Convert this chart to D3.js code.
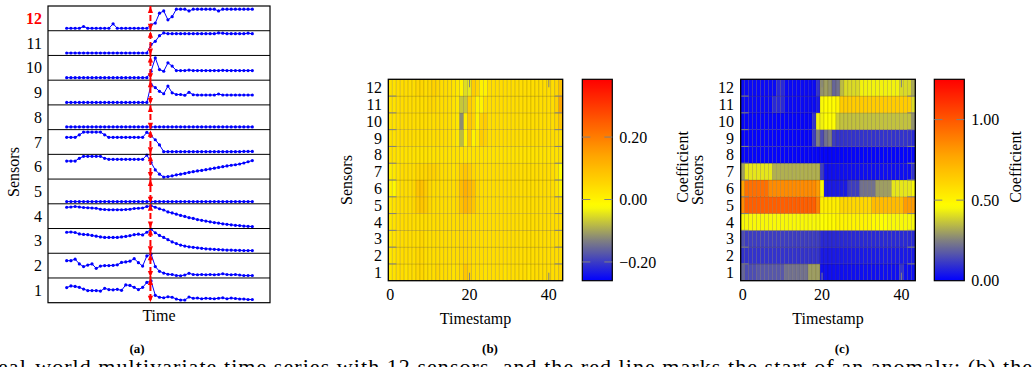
<!DOCTYPE html>
<html><head><meta charset="utf-8">
<script src="https://cdn.jsdelivr.net/npm/d3@7"></script>
<style>body{margin:0;background:#fff}svg{display:block}</style>
</head><body><svg id="chart" width="1032" height="367" font-family="Liberation Serif, DejaVu Serif, serif"></svg>
<script>
// ---------- DATA ----------
const sensorLabels = ["1","2","3","4","5","6","7","8","9","10","11","12"];
const highlightSensor = "12";
const changePoint = 19.85;           // start of anomaly in panel (a) time index
const timeCount = 45;                // points per series in panel (a)
// panel (a): each sensor's reading, scaled to its own strip (0 = bottom, 1 = top)
const sensor1  = [0.61,0.68,0.66,0.62,0.55,0.49,0.49,0.49,0.47,0.58,0.53,0.52,0.54,0.5,0.72,0.7,0.62,0.53,0.62,0.82,0.88,0.3,0.22,0.2,0.24,0.22,0.15,0.11,0.11,0.23,0.18,0.19,0.16,0.18,0.17,0.16,0.18,0.2,0.16,0.19,0.17,0.15,0.15,0.13,0.13];
const sensor2  = [0.7,0.7,0.76,0.57,0.46,0.52,0.57,0.39,0.48,0.5,0.5,0.51,0.53,0.63,0.65,0.68,0.78,0.62,0.48,0.89,0.97,0.46,0.27,0.2,0.15,0.14,0.1,0.09,0.12,0.19,0.14,0.13,0.14,0.13,0.14,0.13,0.14,0.17,0.14,0.13,0.14,0.12,0.1,0.1,0.1];
const sensor3  = [0.85,0.86,0.84,0.78,0.76,0.75,0.72,0.69,0.66,0.64,0.64,0.64,0.64,0.66,0.68,0.71,0.75,0.77,0.74,0.85,0.97,0.83,0.72,0.64,0.55,0.46,0.39,0.33,0.29,0.26,0.24,0.22,0.2,0.18,0.17,0.16,0.15,0.14,0.13,0.13,0.12,0.12,0.11,0.11,0.11];
const sensor4  = [0.86,0.87,0.89,0.87,0.85,0.84,0.83,0.82,0.78,0.77,0.76,0.76,0.76,0.76,0.77,0.78,0.81,0.82,0.83,0.89,0.92,0.86,0.8,0.75,0.67,0.63,0.58,0.53,0.49,0.44,0.41,0.36,0.33,0.3,0.27,0.24,0.22,0.19,0.17,0.15,0.13,0.12,0.1,0.09,0.08];
const sensor5  = [0.09,0.09,0.09,0.09,0.09,0.09,0.09,0.09,0.09,0.09,0.09,0.09,0.09,0.09,0.09,0.09,0.09,0.09,0.09,0.09,0.09,0.09,0.09,0.09,0.09,0.09,0.09,0.09,0.09,0.09,0.09,0.09,0.09,0.09,0.09,0.09,0.09,0.09,0.09,0.09,0.09,0.09,0.09,0.09,0.09];
const sensor6  = [0.73,0.73,0.73,0.84,0.92,0.92,0.92,0.92,0.92,0.84,0.8,0.8,0.8,0.8,0.8,0.8,0.8,0.8,0.8,0.97,0.67,0.37,0.2,0.08,0.1,0.13,0.17,0.2,0.23,0.27,0.3,0.33,0.35,0.38,0.41,0.44,0.47,0.5,0.53,0.56,0.58,0.61,0.65,0.7,0.75];
const sensor7  = [0.69,0.69,0.69,0.79,0.9,0.9,0.9,0.9,0.9,0.79,0.69,0.69,0.69,0.69,0.69,0.69,0.69,0.69,0.69,0.89,0.75,0.59,0.38,0.11,0.11,0.11,0.11,0.11,0.11,0.11,0.11,0.11,0.11,0.11,0.11,0.11,0.11,0.11,0.11,0.11,0.11,0.11,0.12,0.12,0.12];
const sensor8  = [0.11,0.11,0.11,0.11,0.11,0.11,0.11,0.11,0.11,0.11,0.11,0.11,0.11,0.11,0.11,0.11,0.11,0.11,0.11,0.11,0.11,0.11,0.11,0.11,0.11,0.11,0.11,0.11,0.11,0.11,0.11,0.11,0.11,0.11,0.11,0.11,0.11,0.11,0.11,0.11,0.11,0.11,0.11,0.11,0.11];
const sensor9  = [0.1,0.1,0.1,0.1,0.1,0.1,0.1,0.1,0.1,0.1,0.1,0.1,0.1,0.1,0.1,0.1,0.1,0.1,0.1,0.1,0.83,0.7,0.55,0.45,0.76,0.49,0.42,0.42,0.39,0.51,0.41,0.4,0.4,0.4,0.4,0.4,0.44,0.4,0.4,0.4,0.4,0.4,0.4,0.4,0.4];
const sensor10 = [0.1,0.1,0.1,0.1,0.1,0.1,0.1,0.1,0.1,0.1,0.1,0.1,0.1,0.1,0.1,0.1,0.1,0.1,0.1,0.1,0.36,0.9,0.43,0.36,0.7,0.57,0.39,0.39,0.39,0.41,0.39,0.39,0.39,0.39,0.39,0.39,0.39,0.4,0.39,0.39,0.39,0.39,0.39,0.39,0.39];
const sensor11 = [0.1,0.1,0.1,0.1,0.1,0.1,0.1,0.1,0.1,0.1,0.1,0.1,0.1,0.1,0.1,0.1,0.1,0.1,0.1,0.1,0.44,0.57,0.8,0.91,0.88,0.88,0.88,0.88,0.88,0.88,0.88,0.88,0.88,0.88,0.88,0.88,0.91,0.9,0.88,0.88,0.88,0.88,0.88,0.9,0.88];
const sensor12 = [0.1,0.1,0.1,0.1,0.17,0.1,0.1,0.1,0.1,0.1,0.1,0.28,0.1,0.1,0.1,0.1,0.1,0.1,0.1,0.1,0.24,0.31,0.71,0.8,0.44,0.57,0.87,0.87,0.87,0.8,0.87,0.87,0.87,0.87,0.87,0.87,0.8,0.87,0.87,0.87,0.87,0.87,0.87,0.87,0.87];

// panel (b): coefficient per sensor (row) and timestamp 0..43
const timestamps = d3.range(44);
const xTicks = [0, 20, 40];
const bTicks = [-0.2, 0, 0.2];
const bRange = [-0.26, 0.385];
const b1  = [0.02,0.03,0.04,0.04,0.03,0.04,0.04,0.05,0.05,0.04,0.04,0.04,0.05,0.04,0.04,0.04,0.03,0.04,0.05,0.08,0.06,0.04,0.04,0.04,0.03,0.04,0.04,0.04,0.04,0.03,0.04,0.04,0.04,0.04,0.04,0.03,0.04,0.04,0.04,0.04,0.04,0.04,0.04,0.05];
const b2  = [0.02,0.03,0.04,0.04,0.04,0.04,0.04,0.05,0.05,0.04,0.04,0.04,0.04,0.04,0.04,0.04,0.04,0.04,0.05,0.05,0.05,0.04,0.04,0.04,0.04,0.04,0.04,0.04,0.04,0.04,0.04,0.04,0.04,0.04,0.04,0.04,0.04,0.04,0.04,0.04,0.04,0.04,0.04,0.04];
const b3  = [0.02,0.03,0.04,0.04,0.04,0.04,0.04,0.04,0.05,0.04,0.04,0.04,0.04,0.04,0.04,0.04,0.04,0.04,0.05,0.05,0.05,0.04,0.04,0.04,0.04,0.04,0.04,0.04,0.04,0.04,0.04,0.04,0.04,0.04,0.04,0.04,0.04,0.04,0.04,0.04,0.04,0.04,0.04,0.04];
const b4  = [0.02,0.03,0.04,0.04,0.04,0.04,0.04,0.04,0.04,0.04,0.04,0.04,0.04,0.04,0.04,0.04,0.04,0.04,0.05,0.05,0.05,0.04,0.04,0.04,0.04,0.04,0.04,0.04,0.04,0.04,0.04,0.04,0.04,0.04,0.04,0.04,0.04,0.04,0.04,0.04,0.04,0.04,0.04,0.04];
const b5  = [0.02,0.03,0.04,0.04,0.04,0.04,0.05,0.07,0.08,0.07,0.05,0.04,0.04,0.04,0.04,0.04,0.04,0.05,0.09,0.11,0.1,0.08,0.05,0.04,0.04,0.04,0.04,0.04,0.04,0.04,0.04,0.04,0.04,0.04,0.04,0.04,0.04,0.04,0.04,0.04,0.04,0.04,0.04,0.04];
const b6  = [0.0,-0.01,0.03,0.04,0.04,0.04,0.05,0.08,0.09,0.07,0.05,0.04,0.04,0.04,0.04,0.04,0.04,0.05,0.1,0.12,0.11,0.09,0.05,0.04,0.04,0.04,0.04,0.04,0.04,0.04,0.04,0.04,0.04,0.04,0.04,0.04,0.04,0.04,0.04,0.04,0.04,0.04,0.03,0.0];
const b7  = [0.01,0.02,0.03,0.04,0.04,0.04,0.04,0.05,0.05,0.05,0.06,0.06,0.05,0.04,0.04,0.04,0.03,0.04,0.07,0.08,0.07,0.05,0.04,0.04,0.04,0.04,0.04,0.04,0.04,0.04,0.04,0.04,0.04,0.04,0.04,0.04,0.04,0.04,0.04,0.04,0.04,0.04,0.03,-0.02];
const b8  = [0.03,0.03,0.03,0.03,0.03,0.03,0.03,0.03,0.03,0.03,0.03,0.03,0.03,0.03,0.03,0.03,0.03,0.03,0.03,0.03,0.03,0.03,0.03,0.03,0.03,0.03,0.03,0.03,0.03,0.03,0.03,0.03,0.03,0.03,0.03,0.03,0.03,0.03,0.03,0.03,0.03,0.03,0.03,0.03];
const b9  = [0.03,0.03,0.04,0.04,0.04,0.04,0.04,0.04,0.04,0.04,0.04,0.04,0.04,0.04,0.04,0.04,0.03,0.02,-0.08,0.0,0.08,0.0,0.02,0.07,0.06,0.04,0.04,0.04,0.04,0.04,0.04,0.04,0.04,0.04,0.04,0.04,0.04,0.04,0.04,0.04,0.04,0.04,0.04,0.04];
const b10 = [0.03,0.03,0.04,0.04,0.04,0.04,0.04,0.04,0.04,0.04,0.04,0.04,0.04,0.04,0.04,0.04,0.03,0.02,-0.12,0.01,0.08,0.06,0.0,0.06,0.07,0.04,0.04,0.04,0.04,0.04,0.04,0.04,0.04,0.04,0.04,0.04,0.04,0.04,0.04,0.04,0.04,0.04,0.05,0.08];
const b11 = [0.03,0.03,0.04,0.04,0.04,0.04,0.04,0.04,0.04,0.04,0.05,0.05,0.04,0.04,0.04,0.04,0.03,0.02,-0.07,-0.07,0.07,0.05,0.0,0.0,0.04,0.04,0.04,0.04,0.04,0.04,0.04,0.04,0.04,0.04,0.04,0.04,0.04,0.04,0.04,0.04,0.04,0.04,0.06,0.14];
const b12 = [0.03,0.03,0.04,0.04,0.04,0.04,0.04,0.05,0.05,0.04,0.05,0.06,0.05,0.04,0.04,0.04,0.03,0.02,0.0,-0.05,-0.04,0.07,0.05,0.0,0.0,0.04,0.04,0.04,0.04,0.04,0.04,0.04,0.04,0.04,0.04,0.04,0.04,0.04,0.04,0.04,0.04,0.04,0.05,0.09];

// panel (c)
const cTicks = [0, 0.5, 1.0];
const cRange = [0, 1.25];
const c1  = [0.2,0.15,0.15,0.15,0.17,0.17,0.17,0.17,0.17,0.17,0.17,0.22,0.22,0.22,0.22,0.22,0.22,0.3,0.3,0.3,0.03,0.03,0.03,0.03,0.03,0.03,0.03,0.03,0.03,0.03,0.03,0.03,0.03,0.03,0.03,0.03,0.03,0.03,0.03,0.03,0.1,0.03,0.03,0.03];
const c2  = [0.1,0.1,0.1,0.1,0.1,0.1,0.1,0.1,0.1,0.1,0.1,0.1,0.1,0.1,0.1,0.1,0.1,0.1,0.1,0.1,0.05,0.05,0.05,0.05,0.05,0.05,0.05,0.05,0.05,0.05,0.05,0.05,0.05,0.05,0.05,0.05,0.05,0.05,0.05,0.05,0.05,0.05,0.05,0.05];
const c3  = [0.15,0.12,0.12,0.12,0.12,0.12,0.12,0.12,0.12,0.12,0.12,0.12,0.12,0.12,0.12,0.12,0.12,0.12,0.12,0.12,0.08,0.08,0.08,0.08,0.08,0.08,0.08,0.08,0.08,0.08,0.08,0.08,0.08,0.08,0.08,0.08,0.08,0.08,0.08,0.08,0.08,0.08,0.08,0.08];
const c4  = [0.45,0.45,0.45,0.45,0.45,0.45,0.45,0.45,0.45,0.45,0.45,0.45,0.45,0.45,0.45,0.45,0.45,0.45,0.45,0.45,0.46,0.46,0.48,0.48,0.5,0.5,0.5,0.5,0.5,0.5,0.5,0.5,0.5,0.48,0.48,0.46,0.46,0.45,0.45,0.45,0.45,0.45,0.45,0.45];
const c5  = [0.85,0.98,0.98,0.98,0.98,0.98,0.98,0.98,0.98,0.98,0.98,0.98,0.98,0.98,0.98,0.98,0.98,0.98,0.98,0.88,0.52,0.52,0.52,0.52,0.52,0.6,0.6,0.6,0.6,0.6,0.6,0.6,0.6,0.7,0.7,0.7,0.7,0.7,0.7,0.7,0.7,0.8,0.8,0.8];
const c6  = [0.78,0.93,0.93,0.93,0.93,0.93,0.93,0.85,0.85,0.85,0.85,0.85,0.85,0.85,0.85,0.85,0.85,0.85,0.85,0.8,0.45,0.05,0.05,0.05,0.05,0.05,0.05,0.12,0.12,0.12,0.22,0.22,0.22,0.22,0.3,0.3,0.3,0.3,0.42,0.42,0.42,0.42,0.42,0.45];
const c7  = [0.3,0.42,0.42,0.42,0.42,0.42,0.42,0.42,0.33,0.33,0.33,0.33,0.33,0.33,0.33,0.33,0.33,0.33,0.33,0.33,0.12,0.03,0.03,0.03,0.03,0.03,0.03,0.03,0.03,0.03,0.03,0.03,0.03,0.03,0.03,0.03,0.03,0.03,0.03,0.03,0.03,0.03,0.03,0.1];
const c8  = [0.01,0.01,0.01,0.01,0.01,0.01,0.01,0.01,0.01,0.01,0.01,0.01,0.01,0.01,0.01,0.01,0.01,0.01,0.01,0.01,0.01,0.01,0.01,0.01,0.01,0.01,0.01,0.01,0.01,0.01,0.01,0.01,0.01,0.01,0.01,0.01,0.01,0.01,0.01,0.01,0.01,0.01,0.01,0.01];
const c9  = [0.01,0.01,0.01,0.01,0.01,0.01,0.01,0.01,0.01,0.01,0.01,0.01,0.01,0.01,0.01,0.01,0.01,0.01,0.12,0.25,0.15,0.22,0.25,0.12,0.1,0.1,0.1,0.1,0.1,0.1,0.1,0.1,0.1,0.1,0.1,0.1,0.1,0.1,0.1,0.1,0.1,0.1,0.1,0.08];
const c10 = [0.01,0.01,0.01,0.01,0.01,0.01,0.01,0.01,0.01,0.01,0.01,0.01,0.01,0.01,0.01,0.01,0.01,0.01,0.1,0.44,0.44,0.46,0.46,0.46,0.38,0.36,0.36,0.36,0.36,0.36,0.36,0.36,0.36,0.36,0.36,0.36,0.36,0.36,0.36,0.36,0.36,0.36,0.36,0.28];
const c11 = [0.02,0.02,0.02,0.02,0.02,0.02,0.02,0.02,0.08,0.08,0.08,0.02,0.02,0.02,0.02,0.02,0.02,0.02,0.02,0.05,0.45,0.47,0.47,0.47,0.5,0.64,0.64,0.64,0.64,0.64,0.64,0.64,0.64,0.64,0.64,0.64,0.64,0.64,0.64,0.64,0.64,0.64,0.64,0.4];
const c12 = [0.02,0.02,0.02,0.02,0.02,0.02,0.02,0.02,0.02,0.08,0.08,0.02,0.02,0.02,0.02,0.02,0.02,0.02,0.02,0.1,0.28,0.3,0.28,0.2,0.22,0.35,0.4,0.4,0.4,0.4,0.44,0.44,0.44,0.44,0.44,0.44,0.44,0.44,0.44,0.44,0.4,0.4,0.4,0.32];

const captionText = "eal-world multivariate time series with 12 sensors, and the red line marks the start of an anomaly; (b) the";

// ---------- DRAW ----------
const SERIF = "'Liberation Serif', 'DejaVu Serif', serif";
const svg = d3.select("#chart");
svg.append("rect").attr("width",1032).attr("height",367).attr("fill","#fff");
const FS = 16;
function txt(g){ return g.append("text").style("font-family", SERIF).attr("fill","#000"); }

// Panel (a)
const sensors = [sensor1,sensor2,sensor3,sensor4,sensor5,sensor6,sensor7,sensor8,sensor9,sensor10,sensor11,sensor12];
const aL = 48, aR = 270, aT = 6, aB = 302.7;
const band = d3.scaleBand().domain(sensorLabels.slice().reverse()).range([aT, aB]).paddingInner(0);
const xa = d3.scaleLinear().domain([0, timeCount-1]).range([66.7, 252.3]);
const ga = svg.append("g");
sensors.forEach((vals, i) => {
  const lab = sensorLabels[i];
  const y0 = band(lab), h = band.bandwidth();
  const ya = d3.scaleLinear().domain([0,1]).range([y0+h, y0]);
  const line = d3.line().x((d,j)=>xa(j)).y(d=>ya(d));
  ga.append("path").attr("d", line(vals)).attr("fill","none").attr("stroke","#0000ff").attr("stroke-width",1);
  ga.selectAll(null).data(vals).enter().append("circle")
    .attr("cx",(d,j)=>xa(j)).attr("cy",d=>ya(d)).attr("r",1.6).attr("fill","#0000ff");
  txt(ga).attr("x",42).attr("y",y0+h/2).attr("dy","0.35em").attr("text-anchor","end")
    .attr("font-size",FS).attr("font-weight", lab===highlightSensor?"bold":"normal")
    .attr("fill", lab===highlightSensor?"#ff0000":"#000").text(lab);
});
sensorLabels.slice(0,11).forEach(lab => {
  const y = band(lab);
  ga.append("line").attr("x1",aL).attr("x2",aR).attr("y1",y).attr("y2",y).attr("stroke","#000").attr("stroke-width",1);
});
ga.append("rect").attr("x",aL).attr("y",aT).attr("width",aR-aL).attr("height",aB-aT).attr("fill","none").attr("stroke","#000").attr("stroke-width",1.2);
const xc = xa(changePoint);
ga.append("line").attr("x1",xc).attr("x2",xc).attr("y1",aT).attr("y2",aB).attr("stroke","#ff0000").attr("stroke-width",2).attr("stroke-dasharray","6,3");
sensorLabels.forEach(lab => {
  const y0 = band(lab), y1 = y0 + band.bandwidth();
  ga.append("path").attr("d",`M${xc},${y0+0.5}L${xc-2.6},${y0+7}L${xc+2.6},${y0+7}Z`).attr("fill","#ff0000");
  ga.append("path").attr("d",`M${xc},${y1-0.5}L${xc-2.6},${y1-7}L${xc+2.6},${y1-7}Z`).attr("fill","#ff0000");
});
txt(ga).attr("transform","translate(19,172) rotate(-90)").attr("text-anchor","middle").attr("font-size",FS).text("Sensors");
txt(ga).attr("x",159).attr("y",321).attr("text-anchor","middle").attr("font-size",FS).text("Time");
txt(ga).attr("x",137).attr("y",353).attr("text-anchor","middle").attr("font-size",13).attr("font-weight","bold").text("(a)");

// palette
const palStops = [0, 0.2, 0.37, 0.62, 1];
const palCols = ["#0000ff","#808080","#ffff00","#ffa500","#ff0000"];
function makeColor(range){
  return d3.scaleLinear().domain(palStops.map(f=>range[0]+f*(range[1]-range[0]))).range(palCols).interpolate(d3.interpolateRgb).clamp(true);
}

function heatmap(opts){
  const {rows, range, left, right, top, bottom, cbL, cbR, ticks, tickFmt, labelX, sensorsX, coefX, caption, capX, id} = opts;
  const g = svg.append("g");
  const color = makeColor(range);
  const x = d3.scaleLinear().domain([-0.5, timestamps.length-0.5]).range([left, right]);
  const y = d3.scaleBand().domain(sensorLabels.slice().reverse()).range([top, bottom]);
  const cw = x(1)-x(0);
  rows.forEach((vals,i)=>{
    const lab = sensorLabels[i];
    g.selectAll(null).data(vals).enter().append("rect")
      .attr("x",(d,j)=>x(j-0.5)).attr("y",y(lab)).attr("width",cw).attr("height",y.bandwidth())
      .attr("fill",d=>color(d)).attr("stroke","rgba(60,40,0,0.22)").attr("stroke-width",0.7);
    txt(g).attr("x",labelX).attr("y",y(lab)+y.bandwidth()/2).attr("dy","0.35em").attr("text-anchor","end").attr("font-size",FS).text(lab);
  });
  sensorLabels.slice(0,11).forEach(lab=>{
    const yy = y(lab);
    g.append("line").attr("x1",left).attr("x2",left+8).attr("y1",yy).attr("y2",yy).attr("stroke","#808080").attr("stroke-width",1);
    g.append("line").attr("x1",right-8).attr("x2",right).attr("y1",yy).attr("y2",yy).attr("stroke","#808080").attr("stroke-width",1);
  });
  xTicks.forEach(t=>{
    if (t>0){
      g.append("line").attr("x1",x(t)).attr("x2",x(t)).attr("y1",top).attr("y2",top+8).attr("stroke","#808080");
      g.append("line").attr("x1",x(t)).attr("x2",x(t)).attr("y1",bottom-8).attr("y2",bottom).attr("stroke","#808080");
    }
    txt(g).attr("x",x(t)).attr("y",300).attr("text-anchor","middle").attr("font-size",FS).text(t);
  });
  g.append("rect").attr("x",left).attr("y",top).attr("width",right-left).attr("height",bottom-top).attr("fill","none").attr("stroke","#000").attr("stroke-width",1.3);
  txt(g).attr("x",(left+right)/2).attr("y",324).attr("text-anchor","middle").attr("font-size",FS).text("Timestamp");
  txt(g).attr("transform",`translate(${sensorsX},180) rotate(-90)`).attr("text-anchor","middle").attr("font-size",FS).text("Sensors");
  txt(g).attr("x",capX).attr("y",353).attr("text-anchor","middle").attr("font-size",13).attr("font-weight","bold").text(caption);
  const grad = svg.append("defs").append("linearGradient").attr("id",id).attr("x1",0).attr("x2",0).attr("y1",1).attr("y2",0);
  d3.range(0,1.0001,0.02).forEach(f=>{
    grad.append("stop").attr("offset",f).attr("stop-color",color(range[0]+f*(range[1]-range[0])));
  });
  g.append("rect").attr("x",cbL).attr("y",top).attr("width",cbR-cbL).attr("height",bottom-top).attr("fill",`url(#${id})`).attr("stroke","#000").attr("stroke-width",1.2);
  const yc = d3.scaleLinear().domain(range).range([bottom, top]);
  ticks.forEach(t=>{
    const yy = yc(t);
    if (yy < bottom-2){
      g.append("line").attr("x1",cbL).attr("x2",cbL+8).attr("y1",yy).attr("y2",yy).attr("stroke","#808080");
      g.append("line").attr("x1",cbR-8).attr("x2",cbR).attr("y1",yy).attr("y2",yy).attr("stroke","#808080");
    }
    txt(g).attr("x",cbR+7).attr("y",yy).attr("dy","0.35em").attr("font-size",FS).text(tickFmt(t));
  });
  txt(g).attr("transform",`translate(${coefX+5},167) rotate(-90)`).attr("text-anchor","middle").attr("font-size",FS).text("Coefficient");
}
const fmt = t => (t<0?"\u2212":"") + Math.abs(t).toFixed(2);
heatmap({rows:[b1,b2,b3,b4,b5,b6,b7,b8,b9,b10,b11,b12], range:bRange, left:388.3, right:562.7, top:79.3, bottom:280.7,
  cbL:582.3, cbR:612.3, ticks:bTicks, tickFmt:fmt, labelX:382, sensorsX:352, coefX:683, caption:"(b)", capX:490, id:"gb"});
heatmap({rows:[c1,c2,c3,c4,c5,c6,c7,c8,c9,c10,c11,c12], range:cRange, left:740.7, right:915.3, top:79.3, bottom:280.7,
  cbL:934.3, cbR:964.3, ticks:cTicks, tickFmt:fmt, labelX:734, sensorsX:703, coefX:1016, caption:"(c)", capX:842, id:"gc"});

txt(svg).attr("x",-2).attr("y",374).attr("font-size",22).attr("textLength",1034).attr("lengthAdjust","spacing").text(captionText);
</script></body></html>
